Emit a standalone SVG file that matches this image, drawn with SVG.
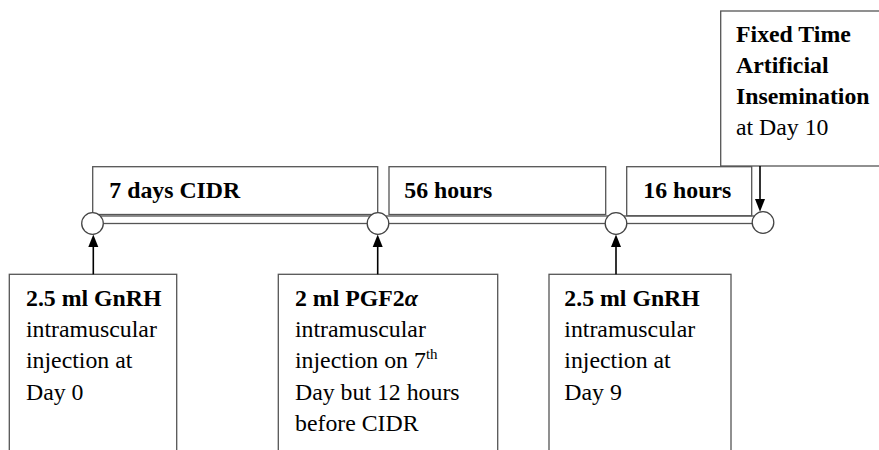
<svg xmlns="http://www.w3.org/2000/svg" width="879" height="450" viewBox="0 0 879 450">
<style>
.box{fill:#fff;stroke:#555;stroke-width:1.3}
.node{fill:#fff;stroke:#444;stroke-width:1.3}
.bar{fill:#fff;stroke:#555;stroke-width:1.3}
.arr{stroke:#000;stroke-width:1.6;fill:none}
text{font-family:"Liberation Serif","Times New Roman",serif;font-size:23.8px;fill:#000}
.b{font-weight:bold}
</style>
<defs>
<marker id="ah" viewBox="0 0 10 12" refX="5" refY="12" markerWidth="10" markerHeight="12" markerUnits="userSpaceOnUse" orient="auto-start-reverse">
<path d="M0,0 L10,0 L5,12 Z" fill="#000" transform="rotate(0)"/>
</marker>
<marker id="au" viewBox="0 0 10 12" refX="5" refY="0" markerWidth="10" markerHeight="12" markerUnits="userSpaceOnUse" orient="0">
<path d="M5,0 L10,12 L0,12 Z" fill="#000"/>
</marker>
</defs>
<g id="timeline-bar">
<rect class="bar" x="92.5" y="216" width="670" height="7.5"/>
</g>
<g id="period-cidr">
<rect class="box" x="92.7" y="166.7" width="285" height="47.8"/>
<text class="b" x="109.3" y="198.3">7 days CIDR</text>
</g>
<g id="period-56h">
<rect class="box" x="389" y="166.7" width="216.7" height="47.8"/>
<text class="b" x="404.3" y="198.3">56 hours</text>
</g>
<g id="period-16h">
<rect class="box" x="626.7" y="166.7" width="125" height="49"/>
<text class="b" x="643.3" y="198.3">16 hours</text>
</g>
<g id="ftai">
<rect class="box" x="720.7" y="11" width="170" height="155"/>
<text x="736" y="41.7"><tspan class="b">Fixed Time</tspan><tspan class="b" x="736" dy="31">Artificial</tspan><tspan class="b" x="736" dy="31">Insemination</tspan><tspan x="736" dy="31">at Day 10</tspan></text>
</g>
<g id="gnrh-day0">
<rect class="box" x="9.3" y="274.3" width="167.4" height="190"/>
<text x="26" y="305.7"><tspan class="b">2.5 ml GnRH</tspan><tspan x="26" dy="31.3">intramuscular</tspan><tspan x="26" dy="31.3">injection at</tspan><tspan x="26" dy="31.3">Day 0</tspan></text>
</g>
<g id="pgf2a">
<rect class="box" x="278.3" y="274.3" width="219.4" height="190"/>
<text x="295" y="305.7"><tspan class="b">2 ml PGF2</tspan><tspan class="b" font-style="italic">α</tspan><tspan x="295" dy="31.3">intramuscular</tspan><tspan x="295" dy="31.3">injection on 7</tspan><tspan font-size="15" dy="-9">th</tspan><tspan x="295" dy="40.3">Day but 12 hours</tspan><tspan x="295" dy="31.3">before CIDR</tspan></text>
</g>
<g id="gnrh-day9">
<rect class="box" x="549" y="274.3" width="182" height="190"/>
<text x="564.3" y="305.7"><tspan class="b">2.5 ml GnRH</tspan><tspan x="564.3" dy="31.3">intramuscular</tspan><tspan x="564.3" dy="31.3">injection at</tspan><tspan x="564.3" dy="31.3">Day 9</tspan></text>
</g>
<g id="point-day0"><circle class="node" cx="92.5" cy="223.5" r="10.8"/></g>
<g id="point-day7"><circle class="node" cx="378" cy="223.5" r="10.8"/></g>
<g id="point-day9"><circle class="node" cx="616" cy="223.5" r="10.8"/></g>
<g id="point-day10"><circle class="node" cx="763" cy="222.5" r="10.8"/></g>
<g id="connectors">
<line class="arr" x1="93.3" y1="274.3" x2="93.3" y2="246" />
<path d="M93.3,234.5 L98.3,247 L88.3,247 Z" fill="#000"/>
<line class="arr" x1="377.7" y1="274.3" x2="377.7" y2="246"/>
<path d="M377.7,234.5 L382.7,247 L372.7,247 Z" fill="#000"/>
<line class="arr" x1="616" y1="274.3" x2="616" y2="246"/>
<path d="M616,234.5 L621,247 L611,247 Z" fill="#000"/>
<line class="arr" x1="760" y1="166" x2="760" y2="200"/>
<path d="M760,211.8 L765,199 L755,199 Z" fill="#000"/>
</g>
</svg>
